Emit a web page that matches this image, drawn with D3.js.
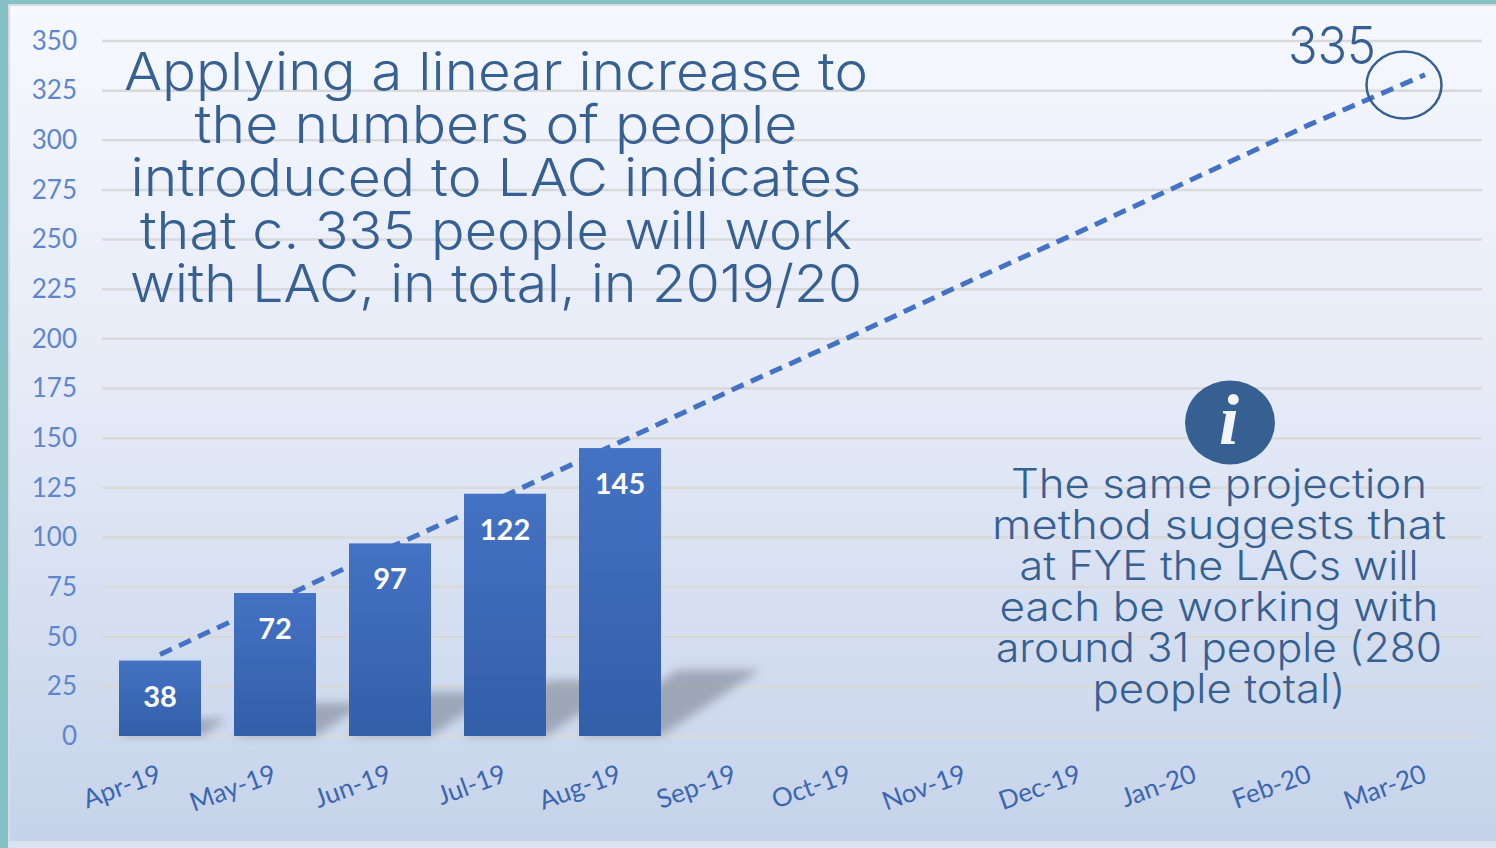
<!DOCTYPE html>
<html>
<head>
<meta charset="utf-8">
<style>
html,body{margin:0;padding:0;background:#fff;}
svg{display:block;}
.tick text{font-family:Lato,"Open Sans",sans-serif;}
.head{font-family:Inter,"Noto Sans",sans-serif;fill:#366092;font-weight:300;text-anchor:middle;}
</style>
<script src="https://cdn.jsdelivr.net/npm/d3@7/dist/d3.min.js"></script>
</head>
<body>
<svg id="chart" width="1496" height="848"></svg>
<script>
const months = ["Apr-19","May-19","Jun-19","Jul-19","Aug-19","Sep-19","Oct-19","Nov-19","Dec-19","Jan-20","Feb-20","Mar-20"];
const actuals = [38,72,97,122,145];
const trend = [41,68,95,121,148,175,201,228,254,281,308,333];
const yTicks = [0,25,50,75,100,125,150,175,200,225,250,275,300,325,350];
const projection = 335;
const headline = ["Applying a linear increase to","the numbers of people","introduced to LAC indicates","that c. 335 people will work","with LAC, in total, in 2019/20"];
const note = ["The same projection","method suggests that","at FYE the LACs will","each be working with","around 31 people (280","people total)"];
// Set widths keep the wide headline lettering on its measured line lengths
const headlineWidths = [744,603,731,712,732];
const noteWidths = [416,454,399,439,446,253];

const svg = d3.select("#chart");
const defs = svg.append("defs");

const panelGrad = defs.append("linearGradient").attr("id","panelFill").attr("x1",0).attr("x2",0).attr("y1",0).attr("y2",1);
panelGrad.append("stop").attr("offset","0%").attr("stop-color","#f6f8fe");
panelGrad.append("stop").attr("offset","45%").attr("stop-color","#e6ebf7");
panelGrad.append("stop").attr("offset","100%").attr("stop-color","#c5d3ea");

const barGrad = defs.append("linearGradient").attr("id","barFill").attr("x1",0).attr("x2",0).attr("y1",0).attr("y2",1);
barGrad.append("stop").attr("offset","0%").attr("stop-color","#4472c4");
barGrad.append("stop").attr("offset","100%").attr("stop-color","#335ea8");

defs.append("filter").attr("id","soft").attr("x","-30%").attr("y","-30%").attr("width","160%").attr("height","160%")
  .append("feGaussianBlur").attr("stdDeviation",5);

// Slide frame: teal edge, pale strip along the bottom, gradient panel
svg.append("rect").attr("width",1496).attr("height",848).attr("fill","#d9e3f1");
svg.append("rect").attr("width",1496).attr("height",4).attr("fill","#84c0c4");
svg.append("rect").attr("width",8).attr("height",848).attr("fill","#84c0c4");
svg.append("rect").attr("x",8).attr("y",4).attr("width",1488).attr("height",2).attr("fill","#d5dbe0");
svg.append("rect").attr("x",8).attr("y",4).attr("width",2).attr("height",837).attr("fill","#d5dbe0");
svg.append("rect").attr("x",10).attr("y",6).attr("width",1486).attr("height",835).attr("fill","url(#panelFill)");

const x = d3.scaleBand().domain(months).range([102.5,1482.5]).paddingInner(0.287).paddingOuter(0.1435);
const y = d3.scaleLinear().domain([0,350]).range([736,41]);
const cx = m => x(m) + x.bandwidth()/2;

// Horizontal grid
svg.append("g").selectAll("line").data(yTicks).join("line")
  .attr("x1",102).attr("x2",1482)
  .attr("y1",d=>y(d)).attr("y2",d=>y(d))
  .attr("stroke","#dad9da").attr("stroke-width",2.5);

// Y axis
const yAxis = svg.append("g").attr("transform","translate(77,0)")
  .call(d3.axisLeft(y).tickValues(yTicks).tickSize(0).tickPadding(0));
yAxis.select(".domain").remove();
yAxis.selectAll("text").attr("font-size",26).attr("fill","#5f86cc").attr("dy","0.32em");

// X axis with slanted month labels
const xAxis = svg.append("g").attr("transform","translate(0,736)")
  .call(d3.axisBottom(x).tickSize(0).tickPadding(0));
xAxis.select(".domain").remove();
xAxis.selectAll("text")
  .attr("font-size",26).attr("fill","#3c66ae")
  .attr("text-anchor","end").attr("dy",0).attr("y",0)
  .attr("transform","translate(3,45) rotate(-20)");

// Cast shadows fall back and to the right of each column
const shadowPath = d => {
  const m = months[actuals.indexOf(d)];
  const left = x(m), right = left + x.bandwidth();
  const rise = (y(0) - y(d)) * 0.23, run = rise * 1.5;
  return d3.line()([[left,y(0)],[left+run,y(0)-rise],[right+run,y(0)-rise],[right,y(0)]]);
};
svg.append("g").selectAll("path").data(actuals).join("path")
  .attr("d",shadowPath).attr("fill","#7d8594").attr("opacity",0.6).attr("filter","url(#soft)");

// Dashed linear projection
svg.append("path").datum(trend)
  .attr("d",d3.line().x((d,i)=>cx(months[i])).y(d=>y(d)))
  .attr("fill","none").attr("stroke","#4472c4").attr("stroke-width",5)
  .attr("stroke-dasharray","13 8");

// Columns and their values
svg.append("g").selectAll("rect").data(actuals).join("rect")
  .attr("x",(d,i)=>x(months[i])).attr("width",x.bandwidth())
  .attr("y",d=>y(d)).attr("height",d=>y(0)-y(d))
  .attr("fill","url(#barFill)");
svg.append("g").selectAll("text").data(actuals).join("text")
  .attr("x",(d,i)=>cx(months[i])).attr("y",d=>y(d)+46)
  .attr("text-anchor","middle").attr("fill","#fff")
  .attr("font-family","Lato,sans-serif").attr("font-weight",700).attr("font-size",29)
  .text(d=>d);

// Headline message
svg.append("g").selectAll("text").data(headline).join("text")
  .attr("class","head").attr("x",496).attr("y",(d,i)=>90+i*53)
  .attr("font-size",52)
  .attr("textLength",(d,i)=>headlineWidths[i]).attr("lengthAdjust","spacingAndGlyphs")
  .text(d=>d);

// Projected year-end call-out
svg.append("ellipse").attr("cx",1404).attr("cy",85).attr("rx",37.5).attr("ry",33.5)
  .attr("fill","none").attr("stroke","#366092").attr("stroke-width",2.5);
svg.append("text").attr("class","head").attr("x",1332).attr("y",64)
  .attr("font-size",52).attr("textLength",88).attr("lengthAdjust","spacingAndGlyphs").text(projection);

// Information badge and side note
svg.append("ellipse").attr("cx",1230).attr("cy",422.5).attr("rx",45).attr("ry",42).attr("fill","#366092");
svg.append("text").attr("x",1229).attr("y",444).attr("text-anchor","middle")
  .attr("font-family","Liberation Serif,serif").attr("font-style","italic").attr("font-weight",700)
  .attr("font-size",72).attr("fill","#f2f5fb").text("i");
svg.append("g").selectAll("text").data(note).join("text")
  .attr("class","head").attr("x",1219).attr("y",(d,i)=>498+i*40.9)
  .attr("font-size",40.5)
  .attr("textLength",(d,i)=>noteWidths[i]).attr("lengthAdjust","spacingAndGlyphs")
  .text(d=>d);
</script>
</body>
</html>
